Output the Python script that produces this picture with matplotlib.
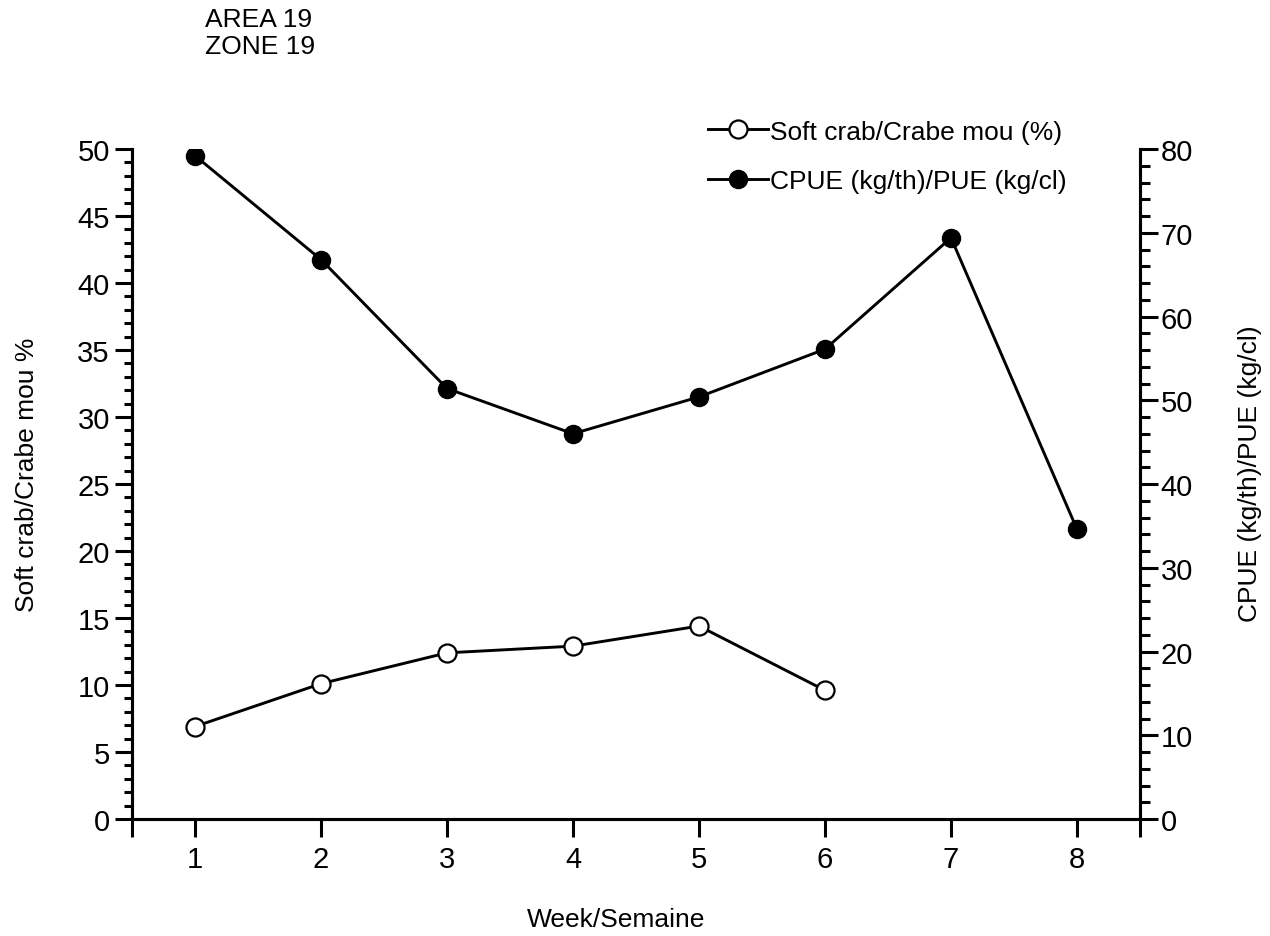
import matplotlib.pyplot as plt
from matplotlib.ticker import MultipleLocator, FixedLocator

plt.rcParams['font.family'] = ['Liberation Sans', 'DejaVu Sans']

weeks_soft = [1, 2, 3, 4, 5, 6]
soft_crab = [6.9, 10.1, 12.4, 12.9, 14.4, 9.6]

weeks_cpue = [1, 2, 3, 4, 5, 6, 7, 8]
cpue = [79.2, 66.8, 51.4, 46.0, 50.4, 56.1, 69.4, 34.6]

week_ticks = [1, 2, 3, 4, 5, 6, 7, 8]


def style_axis(ax):
    for side in ['left', 'right', 'bottom', 'top']:
        ax.spines[side].set_linewidth(2.2)


fig = plt.figure(figsize=(12.7, 9.37), dpi=100)
ax = fig.add_axes([132 / 1270, 117 / 937, 1008 / 1270, 670 / 937])
ax2 = ax.twinx()

l1, = ax.plot(weeks_soft, soft_crab, color='black', linewidth=2.1,
              marker='o', markersize=13, markerfacecolor='white',
              markeredgecolor='black', markeredgewidth=1.6,
              label='Soft crab/Crabe mou (%)')
l2, = ax2.plot(weeks_cpue, cpue, color='black', linewidth=2.1,
               marker='o', markersize=13, markerfacecolor='black',
               markeredgecolor='black',
               label='CPUE (kg/th)/PUE (kg/cl)')

ax.set_xlim(0.5, 8.5)
ax.set_ylim(0, 50)
ax2.set_ylim(0, 80)

ax.set_xticks(week_ticks)
ax.xaxis.set_minor_locator(FixedLocator([0.5, 8.5]))
ax.yaxis.set_major_locator(MultipleLocator(5))
ax.yaxis.set_minor_locator(MultipleLocator(1))
ax2.yaxis.set_major_locator(MultipleLocator(10))
ax2.yaxis.set_minor_locator(MultipleLocator(2))

for a in (ax, ax2):
    style_axis(a)
    a.spines['top'].set_visible(False)

# tick lengths in points (reference is ~17-18 px major)
ax.tick_params(axis='x', which='both', direction='out', length=13, width=2.2,
               labelsize=21, pad=6)
ax.tick_params(axis='y', which='major', direction='out', length=12, width=2.2,
               labelsize=21, pad=4)
ax.tick_params(axis='y', which='minor', direction='out', length=6, width=2.2)
ax2.tick_params(axis='y', which='major', direction='out', length=13, width=2.2,
                labelsize=21, pad=2)
ax2.tick_params(axis='y', which='minor', direction='out', length=7, width=2.2)

ax.set_xlabel('Week/Semaine', fontsize=19)
ax.xaxis.set_label_coords(0.48, -0.131)
ax.set_ylabel('Soft crab/Crabe mou %', fontsize=19)
ax.yaxis.set_label_coords(-0.092, 0.515)
ax2.set_ylabel('CPUE (kg/th)/PUE (kg/cl)', fontsize=19)
ax2.yaxis.set_label_coords(1.097, 0.517)

ax2.legend(handles=[l1, l2], loc='upper left', bbox_to_anchor=(0.571, 1.044),
           frameon=False, fontsize=19, handlelength=2.3, handletextpad=0.05,
           labelspacing=0.96, borderpad=0, borderaxespad=0)

fig.text(205 / 1270, 1 - 8 / 937, 'AREA 19\nZONE 19', fontsize=19,
         va='top', ha='left', linespacing=1.15)

fig.savefig('out.png', dpi=100)
